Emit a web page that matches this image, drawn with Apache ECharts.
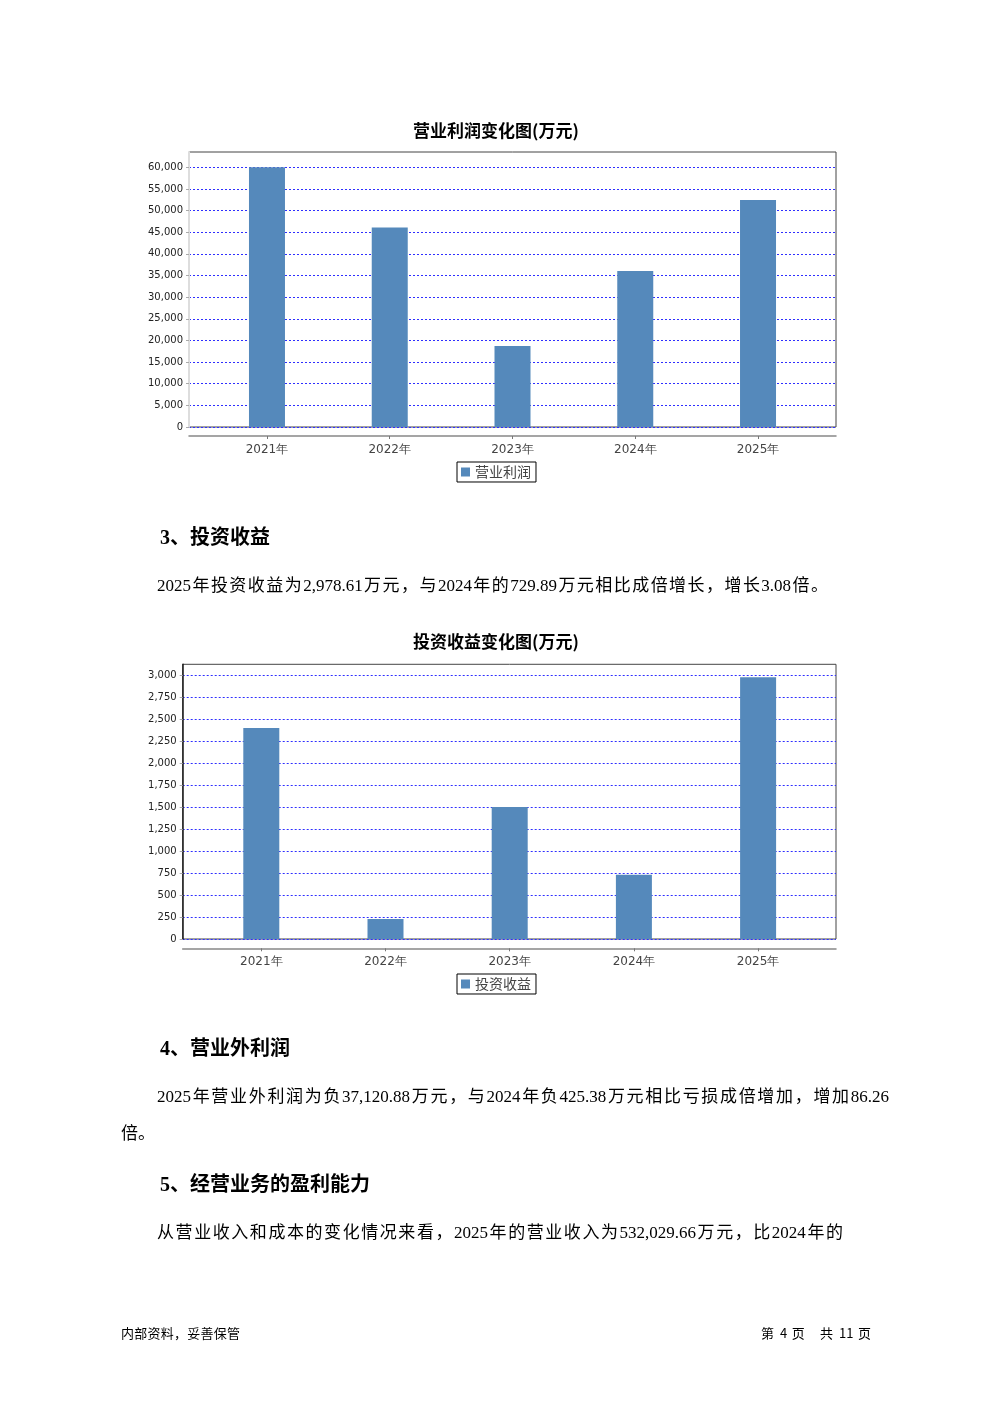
<!DOCTYPE html>
<html>
<head>
<meta charset="utf-8">
<script src="https://cdn.jsdelivr.net/npm/echarts@6/dist/echarts.min.js"></script>
<style>
  html,body{margin:0;padding:0;background:#fff;}
  #page{position:relative;width:992px;height:1403px;overflow:hidden;}
  #chart{position:absolute;left:0;top:0;width:992px;height:1403px;}
  .t{position:absolute;white-space:nowrap;color:#000;font-family:"Liberation Serif","Noto Sans CJK SC",serif;}
  .j{text-align:justify;text-align-last:justify;}
  .h{font-size:20px;font-weight:bold;line-height:26px;}
  .p{font-size:17px;line-height:24px;}
  .f{font-size:13px;line-height:16px;font-family:"Noto Sans CJK SC",sans-serif;}
</style>
</head>
<body>
<div id="page">
  <div id="chart"></div>
  <div class="t h" style="left:160px;top:524px;">3、投资收益</div>
  <div class="t p j" style="left:157px;top:574px;width:671px;">2025年投资收益为2,978.61万元，与2024年的729.89万元相比成倍增长，增长3.08倍。</div>
  <div class="t h" style="left:160px;top:1035px;">4、营业外利润</div>
  <div class="t p j" style="left:157px;top:1085px;width:732px;">2025年营业外利润为负37,120.88万元，与2024年负425.38万元相比亏损成倍增加，增加86.26</div>
  <div class="t p" style="left:121px;top:1122px;">倍。</div>
  <div class="t h" style="left:160px;top:1171px;">5、经营业务的盈利能力</div>
  <div class="t p j" style="left:157px;top:1221px;width:686px;">从营业收入和成本的变化情况来看，2025年的营业收入为532,029.66万元，比2024年的</div>
  <div class="t f j" style="left:121px;top:1325px;width:119px;">内部资料，妥善保管</div>
  <div class="t f j" style="left:761px;top:1325px;width:110px;">第 4 页 &nbsp; 共 11 页</div>
</div>
<script>
// ---- data ----
const years = ['2021年', '2022年', '2023年', '2024年', '2025年'];
const opProfit = [60300, 46100, 18700, 36050, 52450];
const invIncome = [2401, 228, 1501, 729.89, 2978.61];
const chartTitles = ['营业利润变化图(万元)', '投资收益变化图(万元)'];
const seriesNames = ['营业利润', '投资收益'];

const BAR = '#5589bb';
const GRIDLINE = '#2f2fff';
const fmt = v => Math.round(v).toString().replace(/\B(?=(\d{3})+(?!\d))/g, ',');

const chart = echarts.init(document.getElementById('chart'), null, {renderer: 'canvas'});

const hiddenX = i => ({gridIndex: i, type: 'value', min: 0, max: 1, show: false});
const hiddenY = (i, max) => ({gridIndex: i, type: 'value', min: 0, max: max, show: false});
const titleStyle = {fontSize: 17, fontWeight: 'bold', color: '#000', fontFamily: 'Noto Sans CJK SC'};
const legendBase = {orient: 'horizontal', borderColor: '#000', borderWidth: 1,
  padding: [3, 5, 3, 4], itemWidth: 9, itemHeight: 9, icon: 'rect',
  textStyle: {fontSize: 14, color: '#444', fontFamily: 'Noto Sans CJK SC'}};
const catAxis = (gi, off) => ({gridIndex: gi, type: 'category', data: years, offset: off,
  axisLine: {show: false, onZero: false},
  axisTick: {show: true, alignWithLabel: true, length: 3, lineStyle: {color: '#777'}},
  axisLabel: {fontSize: 12, color: '#444', margin: 8, fontFamily: 'DejaVu Sans'}, splitLine: {show: false}});
const baseLine = (gi, off) => ({gridIndex: gi, type: 'value', min: 0, max: 1, offset: off,
  axisLine: {show: true, onZero: false, lineStyle: {color: '#888', width: 1.5}},
  axisTick: {show: false}, axisLabel: {show: false}, splitLine: {show: false}});
const valAxis = (gi, max, step) => ({gridIndex: gi, type: 'value', min: 0, max: max, interval: step,
  axisLine: {show: false, onZero: false}, axisTick: {show: true, length: 3, lineStyle: {color: '#aaa'}},
  axisLabel: {fontSize: 10, color: '#222', margin: 6, formatter: fmt, fontFamily: 'DejaVu Sans'},
  splitLine: {show: true, lineStyle: {color: GRIDLINE, type: [2, 2], width: 1}}});

const option = {
  animation: false,
  title: [
    {text: chartTitles[0], left: 'center', top: 117, textStyle: titleStyle},
    {text: chartTitles[1], left: 'center', top: 628, textStyle: titleStyle}
  ],
  legend: [
    Object.assign({data: [seriesNames[0]], left: 457, top: 462}, legendBase),
    Object.assign({data: [seriesNames[1]], left: 457, top: 974}, legendBase)
  ],
  grid: [
    // chart 1
    {left: 189, top: 152, width: 647, height: 275, show: true, borderColor: '#444', borderWidth: 1, backgroundColor: 'transparent'},
    {left: 189, top: 167.3, width: 647, height: 259.7},
    {left: 205.6, top: 167.3, width: 613.8, height: 259.7},
    // chart 2
    {left: 182.7, top: 664.3, width: 653.3, height: 274.7, show: true, borderColor: '#444', borderWidth: 1, backgroundColor: 'transparent'},
    {left: 182.7, top: 675.3, width: 653.3, height: 263.7},
    {left: 199.2, top: 675.3, width: 621, height: 263.7}
  ],
  xAxis: [
    baseLine(0, 9), hiddenX(1), catAxis(2, 9),
    baseLine(3, 9.3), hiddenX(4), catAxis(5, 9.3)
  ],
  yAxis: [
    {gridIndex: 0, type: 'value', min: 0, max: 1,
     axisLine: {show: true, onZero: false, lineStyle: {color: '#dddddd', width: 2}}, axisTick: {show: false}, axisLabel: {show: false}, splitLine: {show: false}},
    valAxis(1, 60000, 5000),
    hiddenY(2, 60000),
    {gridIndex: 3, type: 'value', min: 0, max: 1,
     axisLine: {show: true, onZero: false, lineStyle: {color: '#222', width: 1.5}}, axisTick: {show: false}, axisLabel: {show: false}, splitLine: {show: false}},
    valAxis(4, 3000, 250),
    hiddenY(5, 3000)
  ],
  series: [
    {name: seriesNames[0], type: 'bar', xAxisIndex: 2, yAxisIndex: 2, data: opProfit, barWidth: 36,
     itemStyle: {color: BAR}},
    {name: seriesNames[1], type: 'bar', xAxisIndex: 5, yAxisIndex: 5, data: invIncome, barWidth: 36,
     itemStyle: {color: BAR}}
  ]
};
chart.setOption(option);
</script>
</body>
</html>
